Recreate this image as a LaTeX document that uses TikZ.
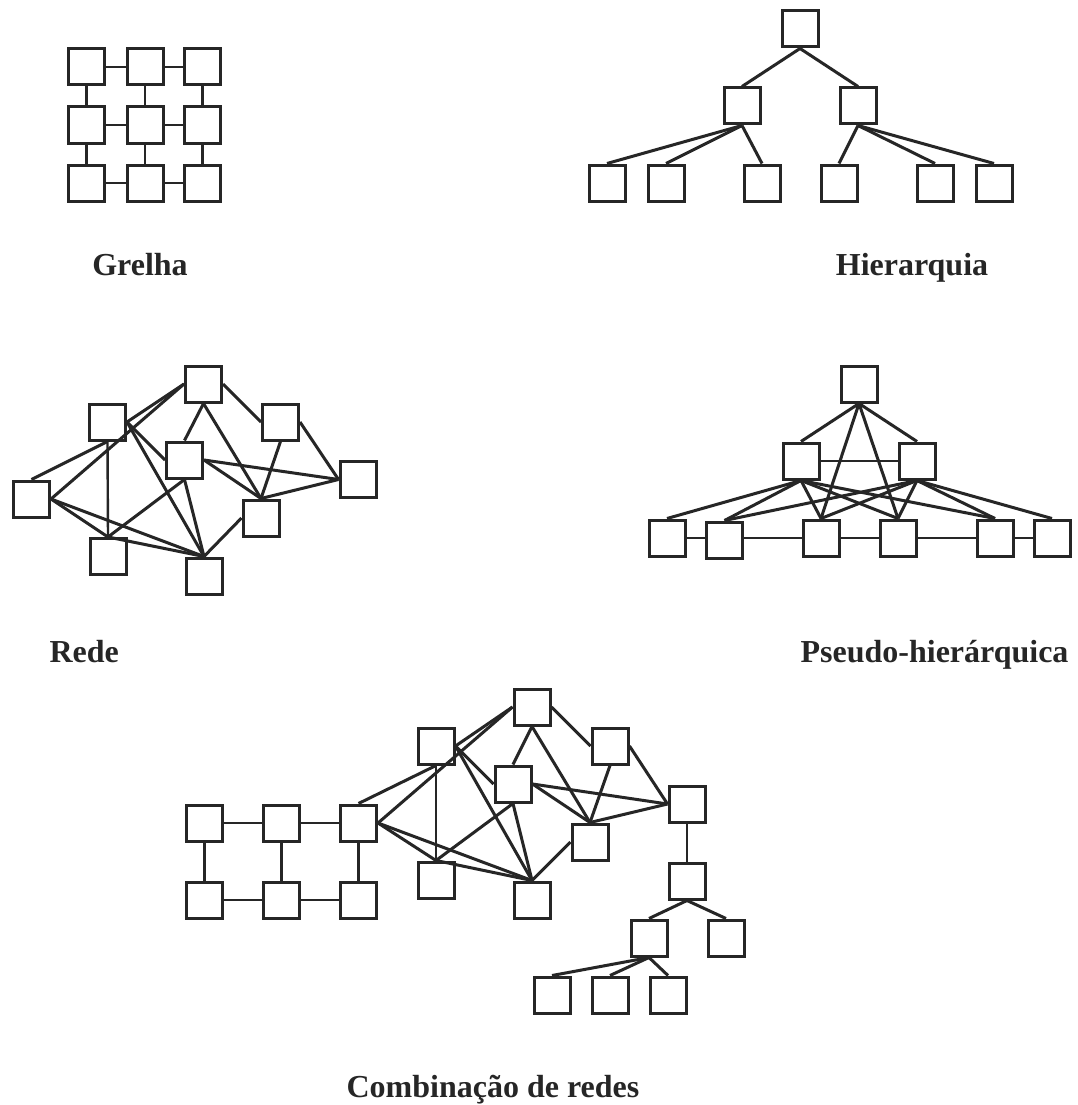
\documentclass[tikz,border=0pt]{standalone}
\usepackage{fontspec}
\setmainfont{Liberation Serif}
\usepackage{tikz}
\definecolor{ink}{RGB}{38,38,38}

\begin{document}
\begin{tikzpicture}[x=1pt, y=-1pt,
	box/.style={draw=ink, line width=3pt, minimum size=36pt, inner sep=0pt},
	link/.style={draw=ink, line width=3pt},
	thin link/.style={draw=ink, line width=2.4pt},
	caption/.style={font=\fontsize{32}{36}\selectfont\bfseries, text=ink, anchor=base}]
	% Page
	\fill[white] (0,0) rectangle (1077,1105);
	\useasboundingbox (0,0) rectangle (1077,1105);
	
	% Grid
	\node[box] (g11) at (86.5,67) {};
	\node[box] (g12) at (145,67) {};
	\node[box] (g13) at (202.5,67) {};
	\node[box] (g21) at (86.5,125) {};
	\node[box] (g22) at (145,125) {};
	\node[box] (g23) at (202.5,125) {};
	\node[box] (g31) at (86.5,183) {};
	\node[box] (g32) at (145,183) {};
	\node[box] (g33) at (202.5,183) {};
	\draw[thin link] (g11) -- (g12) -- (g13);
	\draw[thin link] (g21) -- (g22) -- (g23);
	\draw[thin link] (g31) -- (g32) -- (g33);
	\draw[thin link] (g11) -- (g21) -- (g31);
	\draw[thin link] (g12) -- (g22) -- (g32);
	\draw[thin link] (g13) -- (g23) -- (g33);
	\node[caption] (lgrid) at (140,275) {Grelha};
	
	% Hierarchy
	\node[box] (h0) at (800,29) {};
	\node[box] (h1) at (742,106) {};
	\node[box] (h2) at (858,106) {};
	\node[box] (h3) at (607,183) {};
	\node[box] (h4) at (666,183) {};
	\node[box] (h5) at (762,183) {};
	\node[box] (h6) at (839,183) {};
	\node[box] (h7) at (935,183) {};
	\node[box] (h8) at (994,183) {};
	\draw[link] (h0.south) -- (h1.north);
	\draw[link] (h0.south) -- (h2.north);
	\draw[link] (h1.south) -- (h3.north);
	\draw[link] (h1.south) -- (h4.north);
	\draw[link] (h1.south) -- (h5.north);
	\draw[link] (h2.south) -- (h6.north);
	\draw[link] (h2.south) -- (h7.north);
	\draw[link] (h2.south) -- (h8.north);
	\node[caption] (lhier) at (912,275) {Hierarquia};
	
	% Web
	\node[box] (r1) at (203.5,384) {};
	\node[box] (r2) at (107.5,422) {};
	\node[box] (r3) at (280.5,422) {};
	\node[box] (r4) at (184.5,460) {};
	\node[box] (r5) at (358,479.5) {};
	\node[box] (r6) at (31.5,499) {};
	\node[box] (r7) at (261,518) {};
	\node[box] (r8) at (108,556.5) {};
	\node[box] (r9) at (204,576) {};
	\draw[link] (r6.north) -- (r2.south);
	\draw[link] (r6.east) -- (r1.west);
	\draw[link] (r6.east) -- (r8.north);
	\draw[link] (r6.east) -- (r9.north);
	\draw[link] (r2.east) -- (r1.west);
	\draw[thin link] (r2.south) -- (r8.north);
	\draw[link] (r2.east) -- (r4.west);
	\draw[link] (r2.east) -- (r9.north);
	\draw[link] (r8.north) -- (r4.south);
	\draw[link] (r8.north) -- (r9.north);
	\draw[link] (r4.south) -- (r9.north);
	\draw[link] (r1.south) -- (r4.north);
	\draw[link] (r1.south) -- (r7.north);
	\draw[link] (r1.east) -- (r3.west);
	\draw[link] (r4.east) -- (r5.west);
	\draw[link] (r4.east) -- (r7.north);
	\draw[link] (r3.south) -- (r7.north);
	\draw[link] (r3.east) -- (r5.west);
	\draw[link] (r7.north) -- (r5.west);
	\draw[link] (r7.west) -- (r9.north);
	\node[caption, anchor=base west] (lweb) at (46,662) {Rede};
	
	% Pseudo-hierarchy
	\node[box] (p0) at (859,384) {};
	\node[box] (p1) at (801,461) {};
	\node[box] (p2) at (917,461) {};
	\node[box] (p3) at (667,538) {};
	\node[box] (p4) at (724.5,540) {};
	\node[box] (p5) at (821,538) {};
	\node[box] (p6) at (898,538) {};
	\node[box] (p7) at (995,538) {};
	\node[box] (p8) at (1052,538) {};
	\draw[link] (p0.south) -- (p1.north);
	\draw[link] (p0.south) -- (p2.north);
	\draw[link] (p0.south) -- (p5.north);
	\draw[link] (p0.south) -- (p6.north);
	\draw[thin link] (p1) -- (p2);
	\draw[thin link] (p3) -- (p4.west |- p3);
	\draw[thin link] (p4.east |- p3) -- (p5) -- (p6) -- (p7) -- (p8);
	\draw[link] (p1.south) -- (p3.north);
	\draw[link] (p1.south) -- (p4.north);
	\draw[link] (p1.south) -- (p5.north);
	\draw[link] (p1.south) -- (p6.north);
	\draw[link] (p1.south) -- (p7.north);
	\draw[link] (p2.south) -- (p4.north);
	\draw[link] (p2.south) -- (p5.north);
	\draw[link] (p2.south) -- (p6.north);
	\draw[link] (p2.south) -- (p7.north);
	\draw[link] (p2.south) -- (p8.north);
	\node[caption, anchor=base east] (lpseudo) at (1072,662) {Pseudo-hierárquica};
	
	% Combination: grid part
	\node[box] (c11) at (204.5,823) {};
	\node[box] (c12) at (281.5,823) {};
	\node[box] (c13) at (358.5,823) {};
	\node[box] (c21) at (204.5,900) {};
	\node[box] (c22) at (281.5,900) {};
	\node[box] (c23) at (358.5,900) {};
	\draw[thin link] (c11) -- (c12) -- (c13);
	\draw[thin link] (c21) -- (c22) -- (c23);
	\draw[thin link] (c11) -- (c21);
	\draw[thin link] (c12) -- (c22);
	\draw[thin link] (c13) -- (c23);
	
	% Combination: web part
	\node[box] (n1) at (532,707) {};
	\node[box] (n2) at (436,746) {};
	\node[box] (n3) at (610,746) {};
	\node[box] (n4) at (513,784) {};
	\node[box] (n5) at (687,804) {};
	\node[box] (n7) at (590,842) {};
	\node[box] (n8) at (436,880) {};
	\node[box] (n9) at (532,900) {};
	\draw[link] (c13.north) -- (n2.south);
	\draw[link] (c13.east) -- (n1.west);
	\draw[link] (c13.east) -- (n8.north);
	\draw[link] (c13.east) -- (n9.north);
	\draw[link] (n2.east) -- (n1.west);
	\draw[thin link] (n2.south) -- (n8.north);
	\draw[link] (n2.east) -- (n4.west);
	\draw[link] (n2.east) -- (n9.north);
	\draw[link] (n8.north) -- (n4.south);
	\draw[link] (n8.north) -- (n9.north);
	\draw[link] (n4.south) -- (n9.north);
	\draw[link] (n1.south) -- (n4.north);
	\draw[link] (n1.south) -- (n7.north);
	\draw[link] (n1.east) -- (n3.west);
	\draw[link] (n4.east) -- (n5.west);
	\draw[link] (n4.east) -- (n7.north);
	\draw[link] (n3.south) -- (n7.north);
	\draw[link] (n3.east) -- (n5.west);
	\draw[link] (n7.north) -- (n5.west);
	\draw[link] (n7.west) -- (n9.north);
	
	% Combination: tree part
	\node[box] (t1) at (687,881) {};
	\node[box] (t2) at (649,938) {};
	\node[box] (t3) at (726,938) {};
	\node[box] (t4) at (552,995) {};
	\node[box] (t5) at (610,995) {};
	\node[box] (t6) at (668,995) {};
	\draw[thin link] (n5) -- (t1);
	\draw[link] (t1.south) -- (t2.north);
	\draw[link] (t1.south) -- (t3.north);
	\draw[link] (t2.south) -- (t4.north);
	\draw[link] (t2.south) -- (t5.north);
	\draw[link] (t2.south) -- (t6.north);
	\node[caption] (lcomb) at (493,1097) {Combinação de redes};
\end{tikzpicture}
\end{document}
